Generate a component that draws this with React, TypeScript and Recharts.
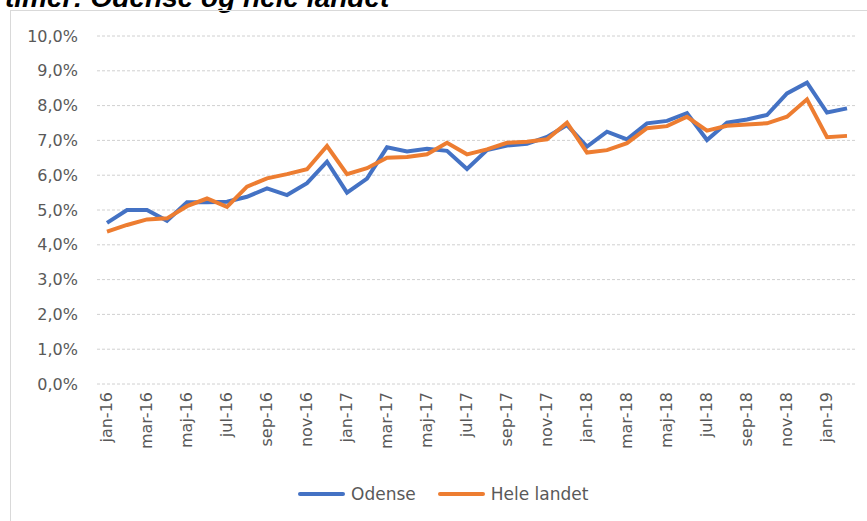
import { LineChart, Line, XAxis, YAxis, CartesianGrid } from 'recharts';

const MONTHS = [
  'jan-16', 'feb-16', 'mar-16', 'apr-16', 'maj-16', 'jun-16', 'jul-16', 'aug-16', 'sep-16', 'okt-16', 'nov-16', 'dec-16',
  'jan-17', 'feb-17', 'mar-17', 'apr-17', 'maj-17', 'jun-17', 'jul-17', 'aug-17', 'sep-17', 'okt-17', 'nov-17', 'dec-17',
  'jan-18', 'feb-18', 'mar-18', 'apr-18', 'maj-18', 'jun-18', 'jul-18', 'aug-18', 'sep-18', 'okt-18', 'nov-18', 'dec-18',
  'jan-19', 'feb-19',
];

// andel i procent
const ODENSE = [
  4.63, 5.0, 5.0, 4.69, 5.22, 5.22, 5.24, 5.38, 5.62, 5.43, 5.77, 6.39,
  5.5, 5.9, 6.8, 6.68, 6.76, 6.7, 6.18, 6.72, 6.85, 6.9, 7.1, 7.44,
  6.82, 7.25, 7.03, 7.49, 7.56, 7.78, 7.01, 7.51, 7.6, 7.73, 8.35, 8.66,
  7.8, 7.92,
];

const HELE_LANDET = [
  4.38, 4.57, 4.73, 4.76, 5.11, 5.33, 5.09, 5.67, 5.91, 6.03, 6.17, 6.84,
  6.03, 6.2, 6.5, 6.52, 6.6, 6.93, 6.6, 6.74, 6.93, 6.96, 7.03, 7.51,
  6.65, 6.72, 6.92, 7.35, 7.41, 7.68, 7.28, 7.42, 7.46, 7.49, 7.68, 8.18,
  7.09, 7.13,
];

const Y_TICKS = [0, 1, 2, 3, 4, 5, 6, 7, 8, 9, 10];

const BLUE = '#4472C4';
const ORANGE = '#ED7D31';
const TEXT = '#595959';
const FONT = '"DejaVu Sans", Verdana, sans-serif';
const TITLE_FONT = '"Liberation Sans", Arial, sans-serif';

const data = MONTHS.map((m, i) => ({ month: m, odense: ODENSE[i], hele: HELE_LANDET[i] }));

const fmtPct = (v: number) => `${v.toFixed(1).replace('.', ',')}%`;

function MonthTick({ x, y, payload }: any) {
  return (
    <g transform={`translate(${x},${y})`}>
      <text
        transform="rotate(-90)"
        textAnchor="end"
        dy={5}
        fill={TEXT}
        fontSize={16}
        fontFamily={FONT}
      >
        {payload.value}
      </text>
    </g>
  );
}

function LegendBox() {
  const items = [
    { label: 'Odense', color: BLUE },
    { label: 'Hele landet', color: ORANGE },
  ];
  return (
    <div style={{ display: 'flex', gap: 22, fontFamily: FONT, fontSize: 17, color: TEXT }}>
      {items.map((it) => (
        <div key={it.label} style={{ display: 'flex', alignItems: 'center' }}>
          <span style={{ display: 'inline-block', width: 47, height: 4, background: it.color, borderRadius: 2, marginRight: 6 }} />
          <span>{it.label}</span>
        </div>
      ))}
    </div>
  );
}

export default function App() {
  return (
    <div style={{ position: 'absolute', left: 0, top: 0, width: 867, height: 521, overflow: 'hidden', background: '#fff' }}>
      <div
        style={{
          position: 'absolute',
          left: 5,
          top: -16,
          fontFamily: TITLE_FONT,
          fontWeight: 'bold',
          fontStyle: 'italic',
          fontSize: 28,
          lineHeight: '28px',
          color: '#000',
          whiteSpace: 'nowrap',
        }}
      >
        timer: Odense og hele landet
      </div>
      <div
        style={{
          position: 'absolute',
          left: 10,
          top: 10,
          width: 880,
          height: 540,
          borderLeft: '1px solid #d9d9d9',
          borderTop: '1px solid #d9d9d9',
        }}
      />
      <div style={{ position: 'absolute', left: 0, top: 0 }}>
        <LineChart width={867} height={521} data={data} margin={{ top: 36, right: 10, left: 0, bottom: 37 }}>
          <CartesianGrid vertical={false} stroke="#d0d0d0" strokeDasharray="3 2" />
          <XAxis
            dataKey="month"
            interval={1}
            axisLine={false}
            tickLine={false}
            padding={{ left: 10, right: 10 }}
            tick={<MonthTick />}
            height={100}
          />
          <YAxis
            domain={[0, 10]}
            ticks={Y_TICKS}
            tickFormatter={fmtPct}
            axisLine={false}
            tickLine={false}
            tickMargin={13}
            width={97}
            tick={{ fill: TEXT, fontSize: 16, fontFamily: FONT }}
          />
          <Line type="linear" dataKey="odense" name="Odense" stroke={BLUE} strokeWidth={4} dot={false} isAnimationActive={false} />
          <Line type="linear" dataKey="hele" name="Hele landet" stroke={ORANGE} strokeWidth={4} dot={false} isAnimationActive={false} />
        </LineChart>
      </div>
      <div style={{ position: 'absolute', left: 298, top: 484 }}>
        <LegendBox />
      </div>
    </div>
  );
}
